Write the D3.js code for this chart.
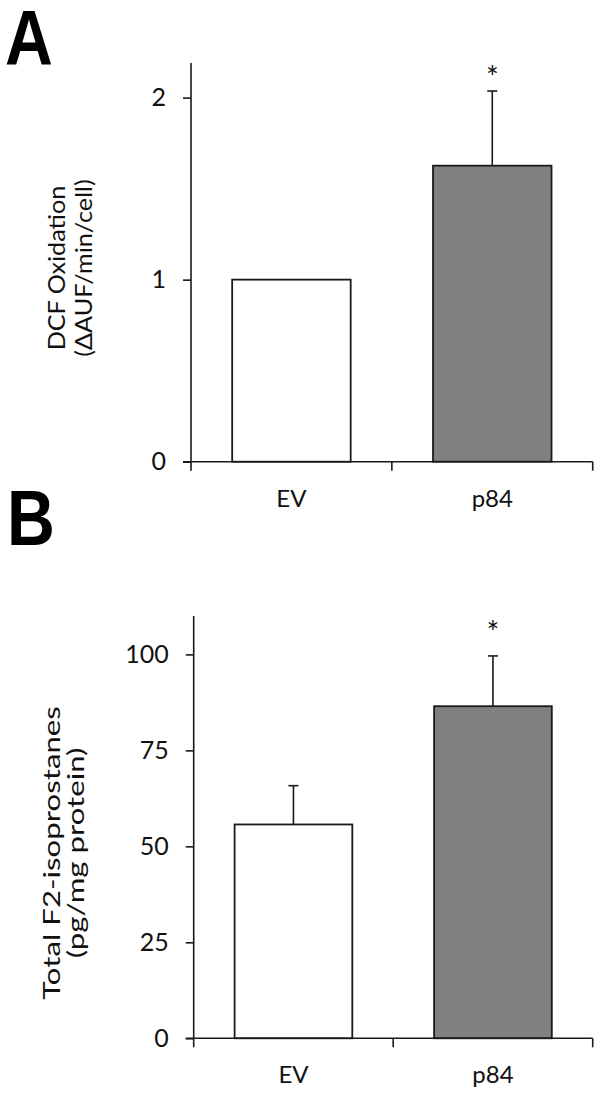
<!DOCTYPE html>
<html><head><meta charset="utf-8">
<script src="https://cdn.jsdelivr.net/npm/d3@7"></script>
<style>body{margin:0;background:#fff}svg{display:block}</style>
</head><body>
<script>
// Data
const categories = ["EV", "p84"];
const dcfValues = [1.0, 1.626];
const dcfErrors = [0, 0.41];
const dcfTicks = [0, 1, 2];
const isoValues = [55.7, 86.5];
const isoErrors = [10.1, 13.1];
const isoTicks = [0, 25, 50, 75, 100];
const significant = [false, true];
const barColors = ["#ffffff", "#808080"];

const W = 600, H = 1095;
const svg = d3.select("body").append("svg").attr("width", W).attr("height", H);
const font = "Lato, 'Noto Sans', sans-serif";
const ink = "#1a1a1a";

function panel(opts) {
  const g = svg.append("g");
  const y = d3.scaleLinear().domain(opts.yDomain).range([opts.y0, opts.y1]);
  const x = d3.scaleBand().domain(categories).range([opts.x0, opts.x1])
    .paddingInner(0.41).paddingOuter(0.205);
  const cx = d => x(d) + x.bandwidth() / 2;

  // bars
  g.selectAll("rect.bar").data(categories).join("rect")
    .attr("x", d => x(d)).attr("width", x.bandwidth())
    .attr("y", (d, i) => y(opts.values[i]))
    .attr("height", (d, i) => y(0) - y(opts.values[i]))
    .attr("fill", (d, i) => barColors[i])
    .attr("stroke", ink).attr("stroke-width", 1.8);

  // error bars
  const eb = categories.map((d, i) => ({d, v: opts.values[i], e: opts.errors[i]})).filter(o => o.e > 0);
  g.selectAll("line.err").data(eb).join("line")
    .attr("x1", o => cx(o.d)).attr("x2", o => cx(o.d))
    .attr("y1", o => y(o.v)).attr("y2", o => y(o.v + o.e))
    .attr("stroke", ink).attr("stroke-width", 1.6);
  g.selectAll("line.cap").data(eb).join("line")
    .attr("x1", o => cx(o.d) - 5).attr("x2", o => cx(o.d) + 5)
    .attr("y1", o => y(o.v + o.e)).attr("y2", o => y(o.v + o.e))
    .attr("stroke", ink).attr("stroke-width", 1.6);

  // asterisks
  g.selectAll("text.sig").data(categories.filter((d, i) => significant[i])).join("text")
    .attr("x", cx)
    .attr("y", opts.starY)
    .attr("text-anchor", "middle")
    .attr("font-family", font).attr("font-size", 30).attr("fill", "#111")
    .text("*");

  // y axis
  const yAxis = d3.axisLeft(y).tickValues(opts.ticks).tickSize(8).tickPadding(17).tickFormat(d3.format("d"));
  const ya = g.append("g").attr("transform", `translate(${opts.x0},0)`).call(yAxis);
  ya.select(".domain").attr("d", `M0,${y(0)}V${y(opts.yDomain[1])}`);
  ya.selectAll("line, path").attr("stroke", ink).attr("stroke-width", 1.6);
  ya.selectAll("text").attr("font-family", font).attr("font-size", 25).attr("fill", "#111");

  // x axis with boundary ticks
  const step = x.step();
  const bounds = categories.map(d => x(d) - x.paddingInner() * step / 2).concat([opts.x1]);
  bounds[0] = opts.x0;
  g.append("line").attr("x1", opts.x0 - 8).attr("x2", opts.x1).attr("y1", y(0)).attr("y2", y(0))
    .attr("stroke", ink).attr("stroke-width", 1.6);
  g.selectAll("line.xt").data(bounds).join("line")
    .attr("x1", b => b).attr("x2", b => b).attr("y1", y(0)).attr("y2", y(0) + 9)
    .attr("stroke", ink).attr("stroke-width", 1.6);
  g.selectAll("text.xl").data(categories).join("text")
    .attr("x", cx).attr("y", opts.xLabelY)
    .attr("text-anchor", "middle").attr("font-family", font).attr("font-size", 24).attr("fill", "#111")
    .text(d => d);

  // axis title
  opts.title.forEach((t, i) => {
    g.append("text").attr("transform", `translate(${opts.titleX[i]},${opts.titleY}) rotate(-90) scale(${opts.titleStretch},1)`)
      .attr("text-anchor", "middle").attr("font-family", font).attr("font-size", opts.titleSize).attr("fill", "#111")
      .text(t);
  });

  // panel letter
  g.append("text").attr("transform", `translate(${opts.letterX},${opts.letterY}) scale(0.85,1)`)
    .attr("font-family", "'Liberation Sans', Arial, sans-serif").attr("font-weight", "bold")
    .attr("font-size", 78).attr("fill", "#000").text(opts.letter);
}

panel({
  yDomain: [0, 2.19], y0: 461.7, y1: 63, x0: 191, x1: 592.7,
  values: dcfValues, errors: dcfErrors, ticks: dcfTicks, starY: 88,
  xLabelY: 507, title: ["DCF Oxidation", "(\u0394AUF/min/cell)"], titleX: [65, 92], titleY: 268,
  titleSize: 24, titleStretch: 1.05,
  letter: "A", letterX: 5, letterY: 65
});
panel({
  yDomain: [0, 110], y0: 1038.3, y1: 616, x0: 193.7, x1: 592.7,
  values: isoValues, errors: isoErrors, ticks: isoTicks, starY: 643,
  xLabelY: 1083, title: ["Total F2-isoprostanes", "(pg/mg protein)"], titleX: [60, 84], titleY: 853,
  titleSize: 24, titleStretch: 1.3,
  letter: "B", letterX: 7, letterY: 545
});
</script>
</body></html>
